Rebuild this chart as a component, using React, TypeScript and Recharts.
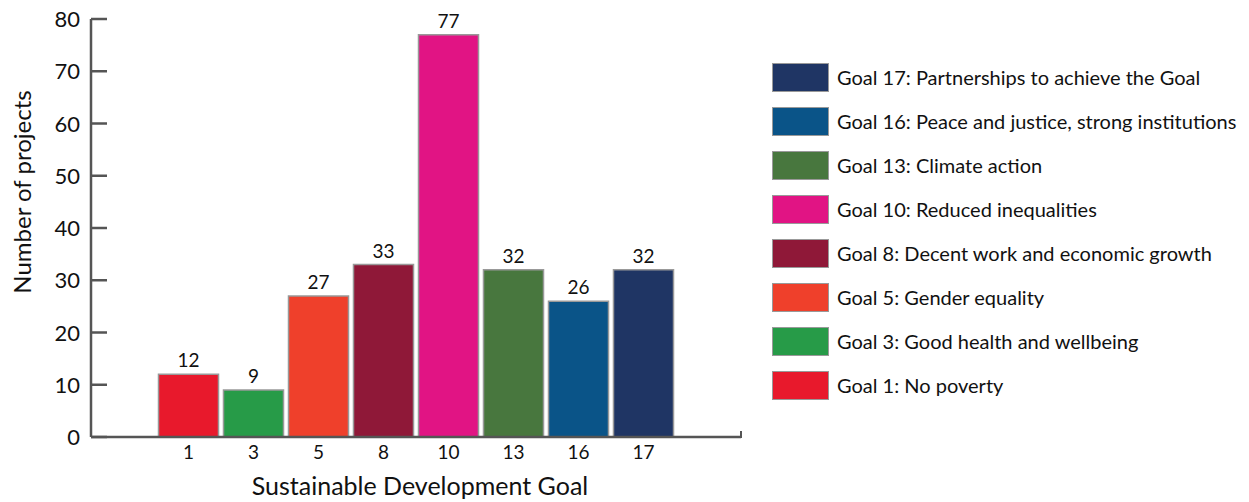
import React from 'react';
import { BarChart, Bar, XAxis, YAxis, Cell, LabelList, Label, usePlotArea } from 'recharts';

const goals = ['1', '3', '5', '8', '10', '13', '16', '17'];
const projects = [12, 9, 27, 33, 77, 32, 26, 32];
const goalNames = [
  'Goal 1: No poverty',
  'Goal 3: Good health and wellbeing',
  'Goal 5: Gender equality',
  'Goal 8: Decent work and economic growth',
  'Goal 10: Reduced inequalities',
  'Goal 13: Climate action',
  'Goal 16: Peace and justice, strong institutions',
  'Goal 17: Partnerships to achieve the Goal',
];
const goalColors = ['#e8192c', '#279b48', '#ef402b', '#8f1838', '#e11484', '#48773e', '#0a5488', '#1f3564'];
const yTicks = [0, 10, 20, 30, 40, 50, 60, 70, 80];

const FONT = 'Lato, "Open Sans", sans-serif';
const INK = '#111';

const chartData = goals.map((g, i) => ({ goal: g, count: projects[i] }));

const YTick = ({ x, y, payload }: any) => (
  <g>
    <line x1={x + 11} x2={x + 27} y1={y} y2={y} stroke="#555" strokeWidth={2.5} />
    <text x={x} y={y} dy={8} textAnchor="end" fontSize={22} fontFamily={FONT} fill={INK}>
      {payload.value}
    </text>
  </g>
);

const XTick = ({ x, y, payload }: any) => (
  <text x={x} y={y} dy={20} textAnchor="middle" fontSize={19} fontFamily={FONT} fill={INK}>
    {payload.value}
  </text>
);

// small upward cap at the right end of the x axis
const AxisCap = () => {
  const area = usePlotArea();
  if (!area) return null;
  const x = area.x + area.width;
  const y = area.y + area.height;
  return <line x1={x} x2={x} y1={y + 1} y2={y - 6} stroke="#555" strokeWidth={2} />;
};

const GoalLegend = () => (
  <div style={{ position: 'absolute', left: 772, top: 55, fontFamily: FONT }}>
    {goalNames
      .map((name, i) => ({ name, color: goalColors[i] }))
      .reverse()
      .map((item) => (
        <div key={item.name} style={{ display: 'flex', alignItems: 'center', height: 44 }}>
          <div
            style={{
              width: 57,
              height: 29,
              background: item.color,
              border: '1px solid #999',
              boxSizing: 'border-box',
              marginRight: 8,
            }}
          />
          <span style={{ fontSize: 20, color: INK, whiteSpace: 'nowrap' }}>{item.name}</span>
        </div>
      ))}
  </div>
);

export default function App() {
  return (
    <div style={{ position: 'absolute', left: 0, top: 0, width: 1249, height: 502, background: '#fff' }}>
      <BarChart
        width={1249}
        height={502}
        data={chartData}
        margin={{ top: 19, right: 508, left: 0, bottom: 0 }}
        barCategoryGap={2.5}
      >
        <XAxis
          dataKey="goal"
          height={65}
          padding={{ left: 65, right: 65 }}
          axisLine={{ stroke: '#555', strokeWidth: 2.5 }}
          tickLine={false}
          tickSize={0}
          tickMargin={2}
          tick={<XTick />}
        >
          <Label
            content={({ viewBox }: any) => (
              <text
                x={viewBox.x + viewBox.width / 2 + 4}
                y={viewBox.y + 58}
                textAnchor="middle"
                fontSize={25}
                fontFamily={FONT}
                fill={INK}
              >
                Sustainable Development Goal
              </text>
            )}
          />
        </XAxis>
        <YAxis
          width={91}
          domain={[0, 80]}
          ticks={yTicks}
          interval={0}
          axisLine={{ stroke: '#555', strokeWidth: 2.5 }}
          tickLine={false}
          tickSize={0}
          tickMargin={11}
          tick={<YTick />}
        >
          <Label
            content={({ viewBox }: any) => {
              const cx = 21;
              const cy = viewBox.y + 173;
              return (
                <text
                  x={cx}
                  y={cy}
                  transform={`rotate(-90, ${cx}, ${cy})`}
                  textAnchor="middle"
                  dominantBaseline="central"
                  fontSize={24}
                  fontFamily={FONT}
                  fill={INK}
                >
                  Number of projects
                </text>
              );
            }}
          />
        </YAxis>
        <Bar dataKey="count" isAnimationActive={false} stroke="#999" strokeWidth={1.5}>
          {chartData.map((d, i) => (
            <Cell key={d.goal} fill={goalColors[i]} />
          ))}
          <LabelList dataKey="count" position="top" offset={7} fontSize={19} fontFamily={FONT} fill={INK} />
        </Bar>
        <AxisCap />
      </BarChart>
      <GoalLegend />
    </div>
  );
}
